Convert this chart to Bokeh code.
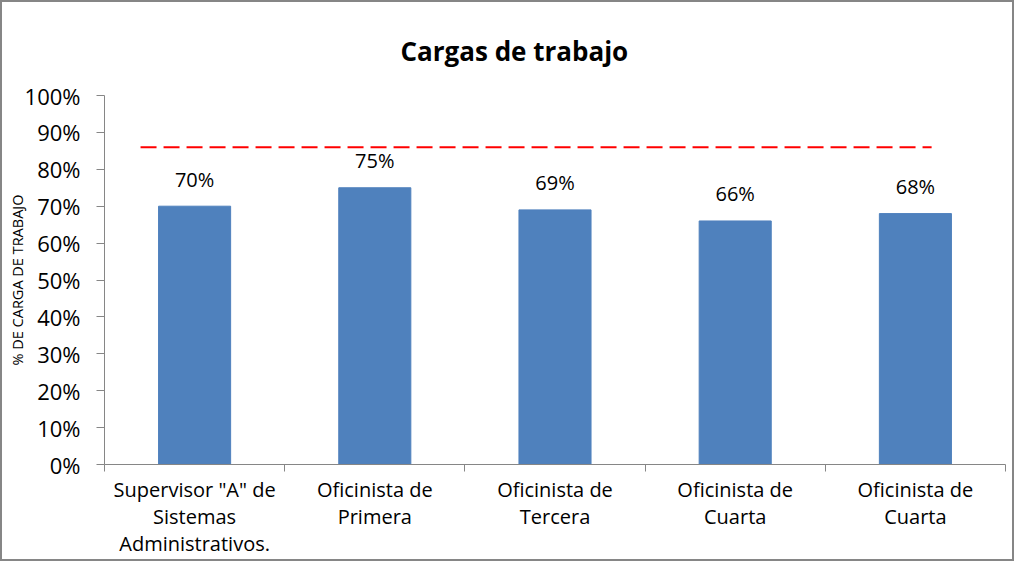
from bokeh.plotting import figure
from bokeh.models import FixedTicker, Range1d, ColumnDataSource
from bokeh.embed import file_html
from bokeh.resources import INLINE
from bokeh.core.properties import value

title = "Cargas de trabajo"
categories = ['Supervisor "A" de\nSistemas\nAdministrativos.', "Oficinista de\nPrimera",
              "Oficinista de\nTercera", "Oficinista de\nCuarta", "Oficinista de\nCuarta"]
values = [70, 75, 69, 66, 68]
labels = ["70%", "75%", "69%", "66%", "68%"]
ref_value = 86
ref_x = [0.2, 4.59]
y_ticks = [0, 10, 20, 30, 40, 50, 60, 70, 80, 90, 100]

FONT = "Open Sans"
xs = [i + 0.5 for i in range(len(values))]

p = figure(width=1014, height=561, output_backend="svg", toolbar_location=None,
           x_range=Range1d(0, len(values)), y_range=Range1d(0, 100),
           min_border_left=102, min_border_right=11, min_border_top=93, min_border_bottom=99)
p.outline_line_color = None
p.grid.visible = False
p.styles = {"border": "2px solid #868686", "box-sizing": "border-box"}

p.title.text = title
p.title.text_font = FONT
p.title.text_font_size = "26px"
p.title.text_font_style = "bold"
p.title.text_color = "black"
p.title.align = "left"
p.title.offset = 296
p.title.standoff = 54

src = ColumnDataSource(dict(x=xs, top=values, label=labels))
p.vbar(x="x", top="top", width=0.4, source=src, fill_color="#4F81BD", line_color="#4F81BD")
p.text(x="x", y="top", text="label", source=src, text_align="center", text_baseline="middle",
       y_offset=-27, text_font=value(FONT), text_font_size="20px", text_color="black")
p.line(x=ref_x, y=[ref_value, ref_value], line_color="#FF0000", line_width=2, line_dash="16 7")

xa = p.xaxis[0]
xa.ticker = FixedTicker(ticks=xs, minor_ticks=list(range(len(values) + 1)))
xa.major_label_overrides = {x: c for x, c in zip(xs, categories)}
xa.major_tick_line_color = None
xa.major_tick_out = 7
xa.major_tick_in = 0
xa.minor_tick_out = 7
xa.minor_tick_in = 0
xa.minor_tick_line_color = "#868686"
xa.axis_line_color = "#868686"
xa.major_label_text_font = FONT
xa.major_label_text_font_size = "20px"
xa.major_label_text_color = "black"
xa.major_label_text_line_height = 1.0
xa.major_label_standoff = 4

ya = p.yaxis[0]
ya.ticker = FixedTicker(ticks=y_ticks)
ya.major_label_overrides = {t: f"{t}%" for t in y_ticks}
ya.minor_tick_line_color = None
ya.major_tick_out = 8
ya.major_tick_in = 0
ya.major_tick_line_color = "#868686"
ya.axis_line_color = "#868686"
ya.major_label_text_font = FONT
ya.major_label_text_font_size = "22px"
ya.major_label_text_color = "black"
ya.major_label_standoff = 16
ya.axis_label = "% DE CARGA DE TRABAJO"
ya.axis_label_text_font = FONT
ya.axis_label_text_font_size = "14.5px"
ya.axis_label_text_font_style = "normal"
ya.axis_label_text_color = "black"
ya.axis_label_standoff = -5

open("out.html", "w").write(file_html(p, INLINE))
